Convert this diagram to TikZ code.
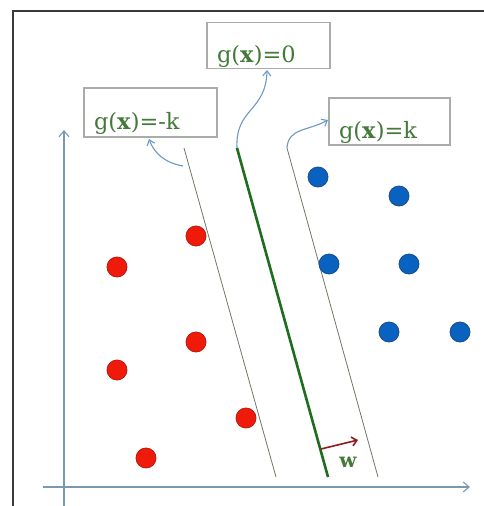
\documentclass[tikz,border=0pt]{standalone}
\usepackage{fontspec}
\setmainfont{DejaVu Serif}
\usetikzlibrary{arrows.meta}
\definecolor{txtgreen}{HTML}{44793A}
\definecolor{boxgray}{HTML}{A8ADA8}
\definecolor{arrblue}{HTML}{6A9AC8}
\definecolor{axisblue}{HTML}{7A98B0}
\definecolor{dotred}{HTML}{F01A0A}
\definecolor{dotredd}{HTML}{B81A10}
\definecolor{dotblue}{HTML}{0A62C0}
\definecolor{dotblued}{HTML}{1E4C86}
\definecolor{mainline}{HTML}{1E6E1E}
\definecolor{thinline}{HTML}{6E7A66}
\definecolor{wred}{HTML}{8E1C1C}
\definecolor{framecol}{HTML}{3A3A3A}
\tikzset{
  lblbox/.style={draw=boxgray, line width=1.2pt, fill=white, text=txtgreen,
    inner xsep=10pt, inner ysep=0pt, align=left, text height=34pt, text depth=0pt,
    font=\fontsize{22.5}{24}\selectfont},
  reddot/.style={circle, fill=dotred, draw=dotredd, line width=0.8pt, minimum size=20pt, inner sep=0pt},
  bluedot/.style={circle, fill=dotblue, draw=dotblued, line width=0.8pt, minimum size=20pt, inner sep=0pt},
  bluearrow/.style={draw=arrblue, line width=1.1pt, -{Straight Barb[length=5pt,width=8pt]}},
  axis/.style={draw=axisblue, line width=1.1pt, -{Straight Barb[length=6pt,width=10pt]}},
  margin/.style={draw=thinline, line width=0.8pt},
}
\begin{document}
\begin{tikzpicture}[x=1pt,y=-1pt]
\useasboundingbox (0,0) rectangle (484,506);
\fill[white] (0,0) rectangle (484,506);
% frame
\draw[framecol, line width=2pt] (13,506) -- (13,11) -- (484,11);
% axes
\coordinate (yaxs) at (64,506);
\coordinate (yaxe) at (64,130);
\coordinate (xaxs) at (43,487);
\coordinate (xaxe) at (470,487);
\draw[axis] (yaxs) -- (yaxe);
\draw[axis] (xaxs) -- (xaxe);
% lines
\coordinate (Ltop) at (184,148);
\coordinate (Lbot) at (276,477);
\coordinate (Mtop) at (237,148);
\coordinate (Mbot) at (328,477);
\coordinate (Rtop) at (287,148);
\coordinate (Rbot) at (378,477);
\draw[margin] (Ltop) -- (Lbot);
\draw[margin] (Rtop) -- (Rbot);
\draw[mainline, line width=2.6pt] (Mtop) -- (Mbot);
% label boxes
\node[lblbox, text width=103pt, minimum height=46pt] (g0) at (268.5,45.5) {g(\textbf{x})=0};
\node[lblbox, text width=113pt, minimum height=49pt] (gmk) at (150.5,112.5) {g(\textbf{x})=-k};
\node[lblbox, text width=101pt, minimum height=47pt] (gk) at (389.5,121.5) {g(\textbf{x})=k};
% curved arrows
\coordinate (la) at (183,166);
\coordinate (lat) at (149,139);
\draw[bluearrow] (la) .. controls (165,163) and (154,153) .. (lat);
\coordinate (mat) at (267,70);
\draw[bluearrow] (Mtop) .. controls (235,108) and (266,112) .. (mat);
\coordinate (rat) at (328,120);
\draw[bluearrow] (Rtop) .. controls (288,128) and (308,131) .. (rat);
% red dots
\node[reddot] (r1) at (196,236) {};
\node[reddot] (r2) at (117,267) {};
\node[reddot] (r3) at (196,342) {};
\node[reddot] (r4) at (117,370) {};
\node[reddot] (r5) at (246,418) {};
\node[reddot] (r6) at (146,458) {};
% blue dots
\node[bluedot] (b1) at (318,177) {};
\node[bluedot] (b2) at (399,196) {};
\node[bluedot] (b3) at (329,264) {};
\node[bluedot] (b4) at (409,264) {};
\node[bluedot] (b5) at (389,332) {};
\node[bluedot] (b6) at (460,332) {};
% w vector
\coordinate (ws) at (321,449);
\coordinate (we) at (358,440);
\draw[wred, line width=1.6pt, -{Straight Barb[length=5pt,width=9pt]}] (ws) -- (we);
\node[text=txtgreen, font=\fontsize{20}{22}\selectfont\bfseries] (wl) at (348,462) {w};
\end{tikzpicture}
\end{document}
